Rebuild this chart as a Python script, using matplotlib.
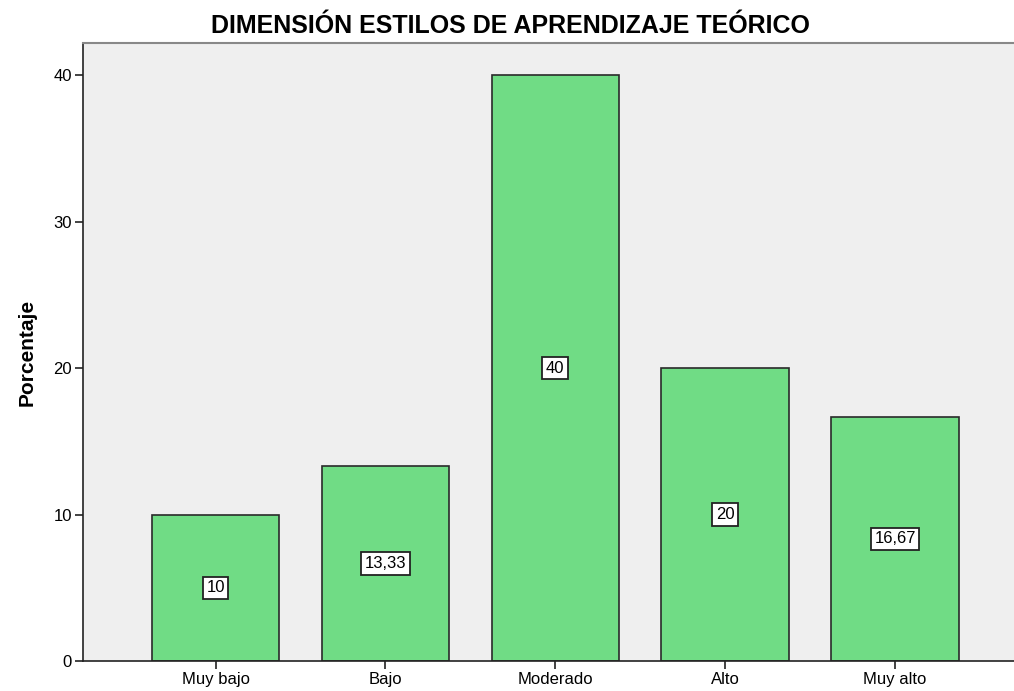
import numpy as np
import matplotlib.pyplot as plt

plt.rcParams['font.family'] = ['Liberation Sans', 'DejaVu Sans']

# datos
categorias = ['Muy bajo', 'Bajo', 'Moderado', 'Alto', 'Muy alto']
porcentajes = [10, 13.33, 40, 20, 16.67]
etiquetas = ['10', '13,33', '40', '20', '16,67']

fig = plt.figure(figsize=(10.14, 6.91), dpi=100)
ax = fig.add_axes([83/1014, 30/691, 1 - 83/1014, (661-43)/691])
ax.set_facecolor('#efefef')

x = np.arange(len(categorias))
ax.bar(x, porcentajes, width=0.75, color='#70dc85', edgecolor='#2a2a2a', linewidth=1.2, zorder=2)

for xi, v, t in zip(x, porcentajes, etiquetas):
    ax.text(xi, v / 2, t, ha='center', va='center', fontsize=12, zorder=3,
            bbox=dict(boxstyle='square,pad=0.22', facecolor='white', edgecolor='#222222', linewidth=1.3))

ax.set_xlim(-0.78, 4.70)
ax.set_ylim(0, 42.2)
ax.set_xticks(x)
ax.set_xticklabels(categorias)
ax.set_yticks([0, 10, 20, 30, 40])
ax.tick_params(axis='both', direction='out', length=6, width=1.2, labelsize=12, color='#222222', pad=2)

ax.spines['right'].set_visible(False)
ax.spines['top'].set_color('#888888')
ax.spines['top'].set_linewidth(1.5)
ax.spines['left'].set_color('#222222')
ax.spines['bottom'].set_color('#222222')
ax.spines['left'].set_linewidth(1.2)
ax.spines['bottom'].set_linewidth(1.2)

ax.set_ylabel('Porcentaje', fontsize=15, fontweight='bold', labelpad=12)
fig.text(0.503, 0.963, 'DIMENSIÓN ESTILOS DE APRENDIZAJE TEÓRICO', ha='center', va='center',
         fontsize=18, fontweight='bold')

plt.savefig('out.png', dpi=100)
